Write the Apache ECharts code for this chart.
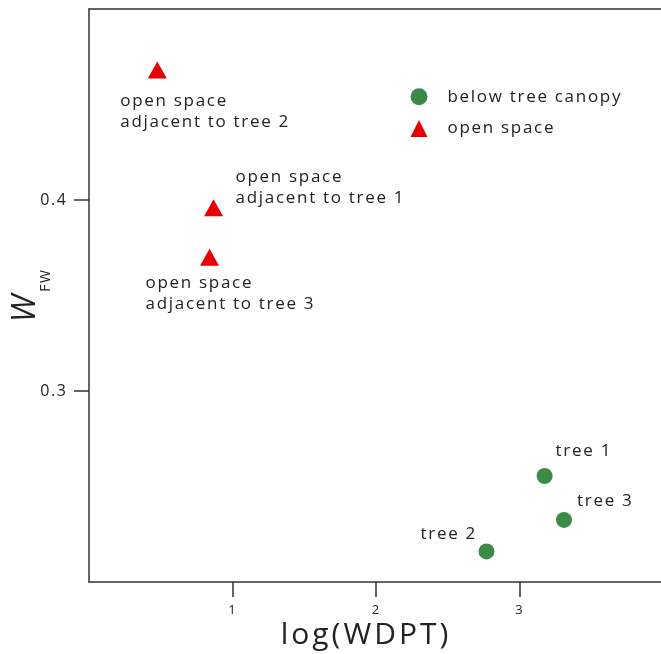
<!DOCTYPE html>
<html><head><meta charset="utf-8">
<script src="https://cdn.jsdelivr.net/npm/echarts@6/dist/echarts.min.js"></script>
<style>html,body{margin:0;padding:0;background:#fff}#c{width:661px;height:654px}</style>
</head><body><div id="c"></div>
<script>
// Letter-spaced text (0.1em), as in the reference typography
(function () {
  const d = Object.getOwnPropertyDescriptor(CanvasRenderingContext2D.prototype, 'font');
  if (!d || !('letterSpacing' in CanvasRenderingContext2D.prototype)) return;
  Object.defineProperty(CanvasRenderingContext2D.prototype, 'font', {
    configurable: true,
    get() { return d.get.call(this); },
    set(v) {
      d.set.call(this, v);
      const m = /(\d+(?:\.\d+)?)px/.exec(v);
      this.letterSpacing = m ? (parseFloat(m[1]) * 0.1).toFixed(2) + 'px' : '0px';
    }
  });
})();

const canopyNames = ['tree 1', 'tree 2', 'tree 3'];
const canopyX = [3.175, 2.77, 3.31];
const canopyY = [0.2555, 0.216, 0.2325];
const openNames = ['open space\nadjacent to tree 1', 'open space\nadjacent to tree 2', 'open space\nadjacent to tree 3'];
const openX = [0.868, 0.476, 0.84];
const openY = [0.396, 0.468, 0.370];
const xTicks = [1, 2, 3];
const yTicks = [0.3, 0.4];

const canopyOffsets = [[11, -35], [-66, -28], [13, -29]];
const openOffsets = [[22, -41], [-37, 20.5], [-64, 15.5]];

const lbl = (off) => ({show: true, position: 'inside', align: 'left', verticalAlign: 'top', offset: off,
  color: '#222', fontFamily: 'Open Sans', fontSize: 17, lineHeight: 21});

const chart = echarts.init(document.getElementById('c'));
const axisLine = {show: true, lineStyle: {color: '#333', width: 1.5}};
chart.setOption({
  animation: false,
  grid: {left: 89, right: -2, top: 9, bottom: 72, containLabel: false, outerBoundsMode: 'none'},
  legend: {
    left: 405.5, top: 82.5, orient: 'vertical', itemGap: 13, itemWidth: 17, itemHeight: 17,
    textStyle: {color: '#222', fontFamily: 'Open Sans', fontSize: 17, padding: [0, 0, 0, 15]},
    data: [{name: 'below tree canopy', icon: 'circle'}, {name: 'open space', icon: 'triangle'}]
  },
  xAxis: [{
    type: 'value', min: 0, max: 4, interval: 1,
    axisLine: axisLine, axisTick: {show: true, length: 15, lineStyle: {color: '#333', width: 1.5},
      customValues: xTicks},
    axisLabel: {color: '#222', fontFamily: 'Open Sans', fontSize: 13, margin: 21, customValues: xTicks},
    splitLine: {show: false},
    name: 'log(WDPT)', nameLocation: 'middle', nameGap: 37, nameMoveOverlap: false,
    nameTextStyle: {color: '#222', fontFamily: 'Open Sans', fontSize: 30, padding: [0, 20, 0, 0]}
  }, {
    type: 'value', position: 'top', min: 0, max: 4,
    axisLine: axisLine, axisTick: {show: false}, axisLabel: {show: false}, splitLine: {show: false}
  }],
  yAxis: {
    type: 'value', min: 0.2, max: 0.5, interval: 0.1,
    axisLine: axisLine, axisTick: {show: true, length: 15, lineStyle: {color: '#333', width: 1.5},
      customValues: yTicks},
    axisLabel: {color: '#222', fontFamily: 'Open Sans', fontSize: 16, margin: 21.5, customValues: yTicks,
      formatter: v => v.toFixed(1)},
    splitLine: {show: false},
    name: '{w|W}{s|FW}', nameLocation: 'middle', nameGap: 35.5, nameRotate: 90, nameMoveOverlap: false,
    nameTextStyle: {rich: {
      w: {fontFamily: 'Open Sans', fontStyle: 'italic', fontSize: 32, color: '#222'},
      s: {fontFamily: 'Open Sans', fontSize: 14, color: '#222', padding: [40, 0, 0, 0]}
    }}
  },
  series: [{
    name: 'below tree canopy', type: 'scatter', symbol: 'circle', symbolSize: 16,
    itemStyle: {color: '#3b8a47', opacity: 1},
    data: canopyX.map((x, i) => ({value: [x, canopyY[i]], label: lbl(canopyOffsets[i]),
      name: canopyNames[i]})),
    label: {formatter: p => p.name}
  }, {
    name: 'open space', type: 'scatter', symbol: 'triangle', symbolSize: [19, 17],
    itemStyle: {color: '#e60000', opacity: 1},
    data: openX.map((x, i) => ({value: [x, openY[i]], label: lbl(openOffsets[i]),
      name: openNames[i]})),
    label: {formatter: p => p.name}
  }]
});
</script></body></html>
